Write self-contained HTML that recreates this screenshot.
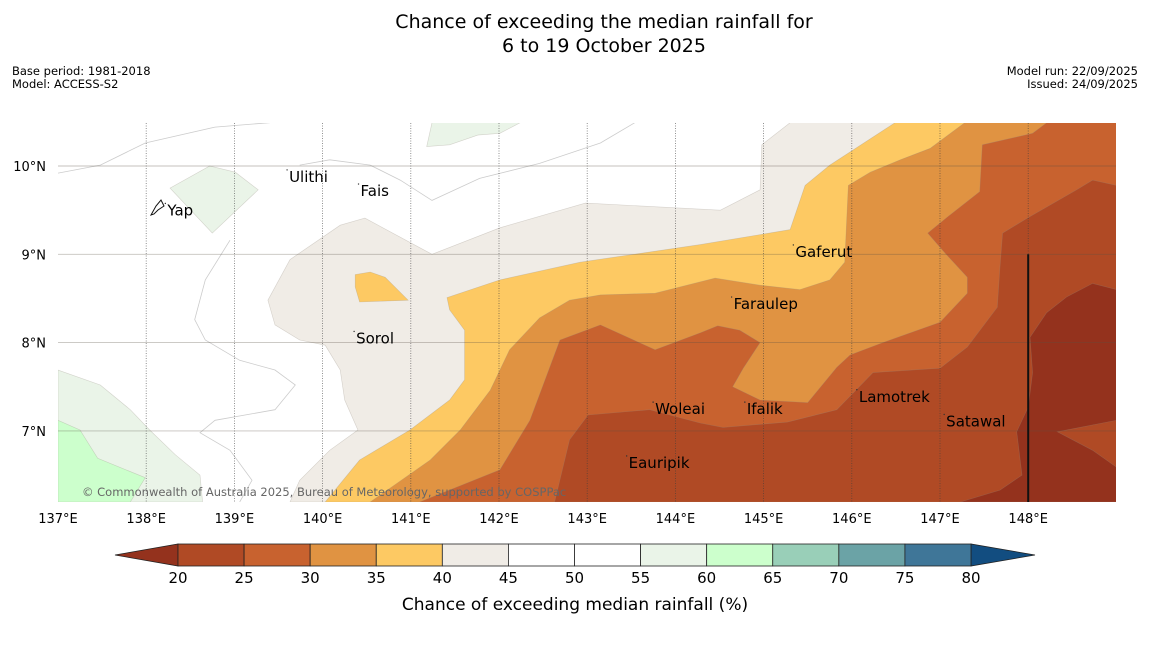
<!DOCTYPE html>
<html><head><meta charset="utf-8"><style>
body{margin:0;background:#fff;}
svg text{font-family:"DejaVu Sans","Liberation Sans",sans-serif;}
</style></head><body>
<svg id="chart" width="1150" height="644" xmlns="http://www.w3.org/2000/svg">
<text x="604" y="28" font-size="19" text-anchor="middle">Chance of exceeding the median rainfall for</text>
<text x="604" y="52" font-size="19" text-anchor="middle">6 to 19 October 2025</text>
<text x="12" y="75" font-size="11.5">Base period: 1981-2018</text>
<text x="12" y="88" font-size="11.5">Model: ACCESS-S2</text>
<text x="1138" y="75" font-size="11.5" text-anchor="end">Model run: 22/09/2025</text>
<text x="1138" y="88" font-size="11.5" text-anchor="end">Issued: 24/09/2025</text>
<defs><clipPath id="mapclip"><rect x="58" y="123" width="1058" height="379"/></clipPath></defs>
<g id="map" clip-path="url(#mapclip)"></g>
<g id="overlay"></g>
<g id="cbar"></g>
<text x="575" y="610" font-size="17" text-anchor="middle">Chance of exceeding median rainfall (%)</text>
</svg>
<script>
const lonTicks=[137,138,139,140,141,142,143,144,145,146,147,148];
const latTicks=[7,8,9,10];
const cbLevels=[20,25,30,35,40,45,50,55,60,65,70,75,80];
const cbColors=["#b04a25","#c8622f","#e09342","#fdc963","#f0ece6","#ffffff","#ffffff","#eaf4e8","#ccffcc","#99cfb8","#6ba3a6","#3f7698"];
const cbLow="#94321d", cbHigh="#124d80";
const regionBeige=[[139.38,8.48],[139.63,8.94],[140.20,9.33],[140.48,9.41],[141.24,9.00],[142.01,9.30],[142.98,9.58],[144.51,9.50],[144.96,9.73],[144.98,10.24],[145.30,10.49],[149,10.49],[149,6.195],[139.63,6.195],[139.74,6.44],[140.08,6.78],[140.40,7.01],[140.25,7.35],[140.20,7.69],[140.03,7.97],[139.74,8.03],[139.46,8.20]];
const regionYellowPatch=[[140.37,8.77],[140.54,8.80],[140.71,8.74],[140.97,8.48],[140.42,8.46],[140.37,8.63]];
const regionYellow=[[140.03,6.195],[140.42,6.67],[140.99,7.01],[141.44,7.35],[141.61,7.58],[141.61,8.14],[141.44,8.37],[141.41,8.51],[142.01,8.71],[142.92,8.91],[144.28,9.11],[145.30,9.28],[145.47,9.78],[145.75,10.01],[146.49,10.49],[149,10.49],[149,6.195]];
const regionOrange=[[140.54,6.195],[141.22,6.67],[141.56,7.01],[141.90,7.46],[142.12,7.92],[142.46,8.28],[142.80,8.48],[143.15,8.54],[143.77,8.56],[144.45,8.73],[144.96,8.65],[145.41,8.60],[145.75,8.71],[145.92,8.91],[145.96,9.78],[146.21,9.93],[146.55,10.07],[146.89,10.20],[147.28,10.49],[149,10.49],[149,6.195]];
const regionDarkOrange=[[141.10,6.195],[142.01,6.56],[142.35,7.12],[142.69,8.03],[143.15,8.20],[143.77,7.92],[144.28,8.11],[144.48,8.19],[144.73,8.14],[144.96,8.00],[144.77,7.71],[144.65,7.50],[144.96,7.35],[145.50,7.32],[145.83,7.72],[145.98,7.86],[146.35,8.00],[147.00,8.23],[147.31,8.56],[147.31,8.74],[147.06,9.01],[146.86,9.24],[147.08,9.42],[147.45,9.71],[147.48,10.24],[148.05,10.37],[148.21,10.49],[149,10.49],[149,6.195]];
const regionBrown=[[142.63,6.195],[142.80,6.90],[143.01,7.18],[143.71,7.24],[144.28,7.09],[144.54,7.04],[145.27,7.10],[145.83,7.24],[146.24,7.66],[147.00,7.71],[147.31,7.95],[147.65,8.40],[147.68,8.86],[147.71,9.24],[147.99,9.41],[148.55,9.73],[148.73,9.84],[149,9.78],[149,6.195]];
const regionDarkBrown=[[149,8.60],[148.73,8.67],[148.44,8.52],[148.21,8.34],[148.02,8.06],[148.05,7.66],[148.00,7.27],[147.87,6.99],[147.93,6.50],[147.68,6.33],[147.23,6.195],[149,6.195]];
const regionBrownWedge=[[148.33,6.99],[149,7.12],[149,6.59],[148.73,6.78]];
const regionGreenYap=[[138.27,9.75],[138.72,10.0],[139.01,9.93],[139.27,9.73],[138.75,9.24]];
const regionGreenTop=[[141.24,10.49],[142.24,10.49],[142.01,10.37],[141.76,10.35],[141.44,10.24],[141.18,10.22]];
const regionGreenBL=[[137,7.69],[137.48,7.52],[137.82,7.24],[138.04,7.01],[138.33,6.73],[138.61,6.50],[138.64,6.195],[137,6.195]];
const regionBrightGreen=[[137,7.12],[137.25,7.01],[137.45,6.69],[137.99,6.47],[137.82,6.195],[137,6.195]];
const line1=[[137,9.92],[137.48,10.01],[137.99,10.26],[138.78,10.44],[139.40,10.49]];
const line2=[[143.54,10.49],[143.15,10.26],[142.46,10.03],[141.78,9.86],[141.24,9.61],[140.88,9.84],[140.54,10.01],[140.08,10.07],[139.74,10.01]];
const line3=[[138.95,9.16],[138.67,8.71],[138.55,8.26],[138.67,8.03],[139.06,7.80],[139.46,7.69],[139.69,7.52],[139.46,7.24],[138.78,7.12],[138.61,6.98],[138.95,6.78],[139.20,6.44],[139.06,6.195]];
const islandNames=["Ulithi","Fais","Yap","Gaferut","Faraulep","Sorol","Woleai","Ifalik","Lamotrek","Satawal","Eauripik"];
const islandLon=[139.62,140.43,138.24,145.36,144.66,140.38,143.77,144.81,146.08,147.07,143.47];
const islandLat=[9.82,9.66,9.44,8.97,8.38,7.99,7.19,7.19,7.33,7.05,6.58];

const NS="http://www.w3.org/2000/svg";
const X=lon=>58+(lon-137)*88.2;
const Y=lat=>166+(10-lat)*88.3;
function mk(tag,attrs,parent){const e=document.createElementNS(NS,tag);for(const k in attrs)e.setAttribute(k,attrs[k]);parent.appendChild(e);return e;}
const map=document.getElementById('map');
const ov=document.getElementById('overlay');
function pts(a){return a.map(p=>X(p[0]).toFixed(1)+','+Y(p[1]).toFixed(1)).join(' ');}
function poly(a,fill,name){const e=mk('polygon',{points:pts(a),fill:fill,stroke:"rgba(150,140,130,0.35)","stroke-width":0.6},map);

}
const bg=mk('rect',{x:58,y:123,width:1058,height:379,fill:'#fff'},map);


poly(regionGreenBL,cbColors[7],'region-55-60-southwest');
poly(regionBrightGreen,cbColors[8],'region-60-65-southwest');
poly(regionGreenYap,cbColors[7],'region-55-60-yap');
poly(regionGreenTop,cbColors[7],'region-55-60-north');
poly(regionBeige,cbColors[4],'region-40-45');
poly(regionYellowPatch,cbColors[3],'region-35-40-patch');
poly(regionYellow,cbColors[3],'region-35-40');
poly(regionOrange,cbColors[2],'region-30-35');
poly(regionDarkOrange,cbColors[1],'region-25-30');
poly(regionBrown,cbColors[0],'region-20-25');
poly(regionDarkBrown,cbLow,'region-below-20');
poly(regionBrownWedge,cbColors[0],'region-20-25-wedge');
[line1,line2,line3].forEach((l,i)=>{const e=mk('polyline',{points:pts(l),fill:'none',stroke:'#ccc','stroke-width':0.8},map);

});
latTicks.forEach(t=>{const e=mk('line',{x1:58,x2:1116,y1:Y(t),y2:Y(t),stroke:'rgba(90,80,70,0.35)','stroke-width':0.9},map);


const tx=mk('text',{x:46,y:Y(t)+5,'font-size':13,'text-anchor':'end'},ov);tx.textContent=t+'°N';

});
lonTicks.forEach(t=>{if(t>137){const e=mk('line',{x1:X(t),x2:X(t),y1:123,y2:502,stroke:'rgba(60,60,60,0.7)','stroke-width':0.8,'stroke-dasharray':'1,1.5'},map);

}
const tx=mk('text',{x:X(t),y:523,'font-size':13,'text-anchor':'middle'},ov);tx.textContent=t+'°E';

});
const bl=mk('line',{x1:X(148),x2:X(148),y1:Y(9),y2:502,stroke:'#111','stroke-width':2},map);


const cp=mk('text',{x:82,y:496,'font-size':11.5,fill:'#666'},map);cp.textContent='© Commonwealth of Australia 2025, Bureau of Meteorology, supported by COSPPac';


islandNames.forEach((n,i)=>{const d=mk('circle',{cx:X(islandLon[i])-2,cy:Y(islandLat[i])-12,r:0.7,fill:'#333'},ov);


const t=mk('text',{x:X(islandLon[i]),y:Y(islandLat[i]),'font-size':15},ov);t.textContent=n;

});
const yap=mk('path',{d:'M151,215 L156,206 L161,200 L164,206 L158,210 L154,214 Z',fill:'none',stroke:'#111','stroke-width':1},ov);


const cb=document.getElementById('cbar');
const cx0=178,cx1=971,cy0=544,cy1=566;
const CX=v=>cx0+(v-cbLevels[0])/(cbLevels[cbLevels.length-1]-cbLevels[0])*(cx1-cx0);
const lt=mk('polygon',{points:`115,555 ${cx0},${cy0} ${cx0},${cy1}`,fill:cbLow,stroke:'#222','stroke-width':0.8},cb);


const rt=mk('polygon',{points:`1035,555 ${cx1},${cy0} ${cx1},${cy1}`,fill:cbHigh,stroke:'#222','stroke-width':0.8},cb);


cbColors.forEach((c,i)=>{const r=mk('rect',{x:CX(cbLevels[i]),y:cy0,width:CX(cbLevels[i+1])-CX(cbLevels[i]),height:cy1-cy0,fill:c,stroke:'#222','stroke-width':0.8},cb);

});
cbLevels.forEach(v=>{const t=mk('text',{x:CX(v),y:583,'font-size':15,'text-anchor':'middle'},cb);t.textContent=v;

});
</script>
</body></html>
